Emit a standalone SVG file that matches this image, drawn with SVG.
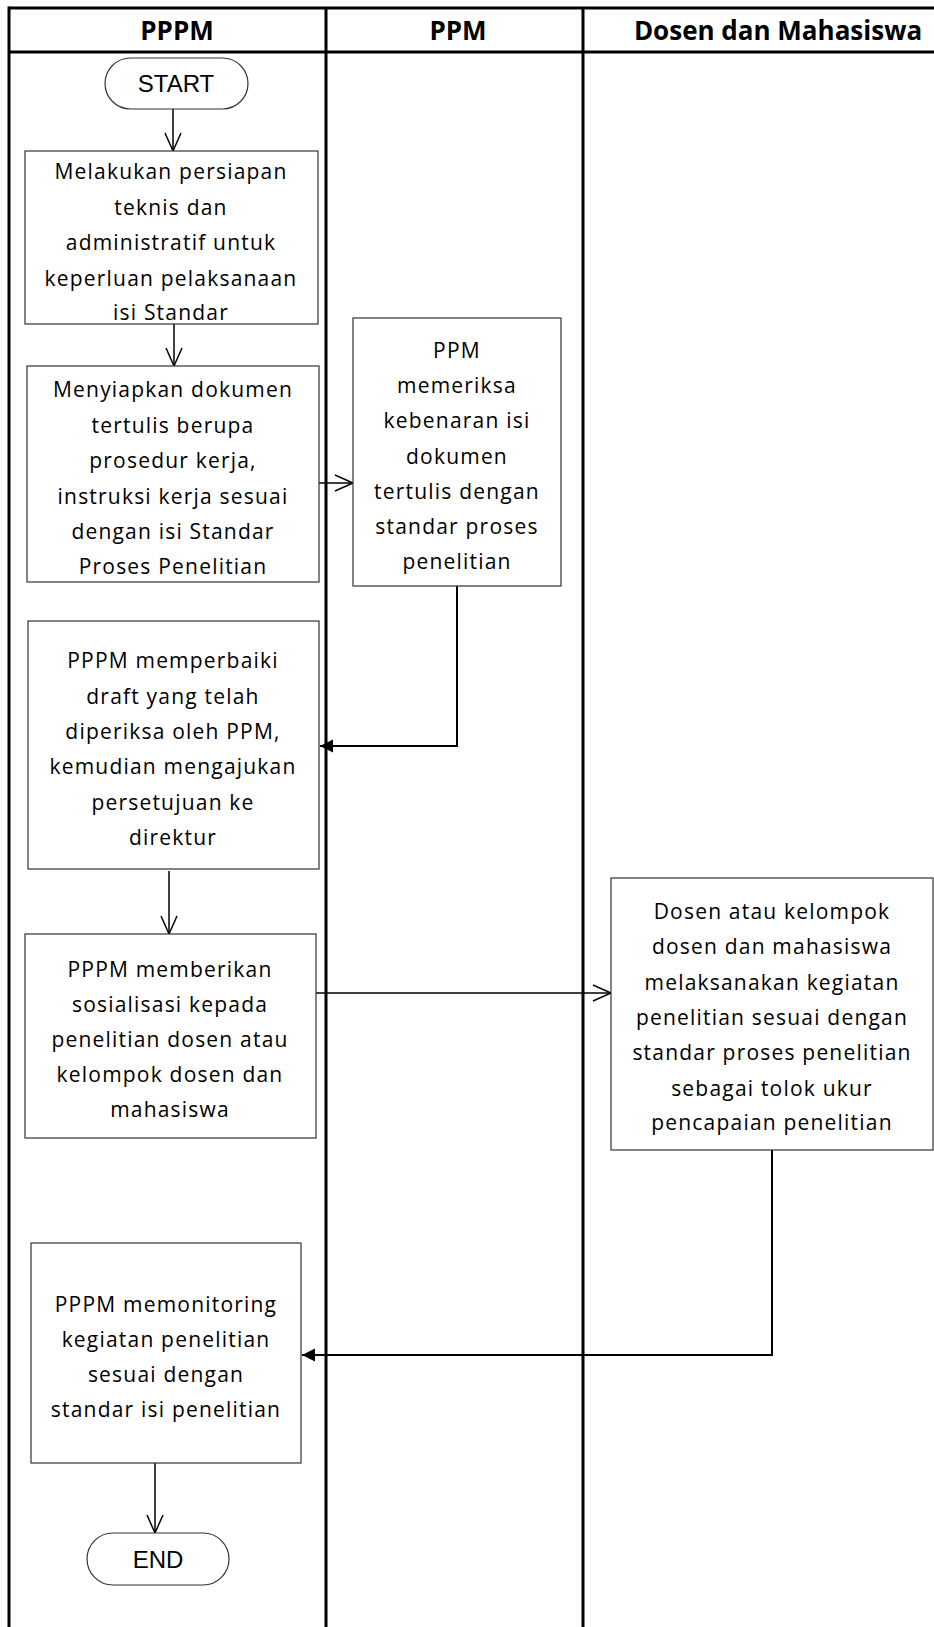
<svg xmlns="http://www.w3.org/2000/svg" width="934" height="1627" viewBox="0 0 934 1627">
<style>
.lane{stroke:#000;stroke-width:3;fill:none}
.box{fill:#fff;stroke:#333;stroke-width:1.2}
.term{fill:#fff;stroke:#333;stroke-width:1.2}
.t{font-family:"Open Sans","Liberation Sans",sans-serif;font-size:21px;letter-spacing:1.2px;fill:#000;text-anchor:middle}
.h{font-family:"Open Sans","Liberation Sans",sans-serif;font-size:26px;font-weight:bold;fill:#000;text-anchor:middle}
.tt{font-family:"Liberation Sans",Arial,sans-serif;font-size:24px;fill:#000;text-anchor:middle}
.c{fill:none;stroke:#000;stroke-width:1.5}
.c2{fill:none;stroke:#000;stroke-width:2}
</style>
<defs>
<marker id="open" markerUnits="userSpaceOnUse" viewBox="-20 -10 22 20" refX="0" refY="0" markerWidth="22" markerHeight="20" orient="auto">
<path d="M-18,-8 L0,0 L-18,8" fill="none" stroke="#000" stroke-width="1.5"/>
</marker>
<marker id="fill" markerUnits="userSpaceOnUse" viewBox="-15 -8 16 16" refX="0" refY="0" markerWidth="16" markerHeight="16" orient="auto">
<path d="M-13,-6.5 L0,0 L-13,6.5 Z" fill="#000"/>
</marker>
</defs>
<rect width="934" height="1627" fill="#fff"/>
<g id="lanes">
<line class="lane" x1="9" y1="8" x2="934" y2="8"/>
<line class="lane" x1="9" y1="52" x2="934" y2="52"/>
<line class="lane" x1="9" y1="6.5" x2="9" y2="1627"/>
<line class="lane" x1="326" y1="8" x2="326" y2="1627"/>
<line class="lane" x1="583" y1="8" x2="583" y2="1627"/>
<text class="h" x="177" y="40">PPPM</text>
<text class="h" x="458" y="40">PPM</text>
<text class="h" x="778" y="40">Dosen dan Mahasiswa</text>
</g>
<g id="connectors">
<line class="c" x1="173" y1="109" x2="173" y2="151" marker-end="url(#open)"/>
<line class="c" x1="174" y1="324" x2="174" y2="366" marker-end="url(#open)"/>
<line class="c" x1="319" y1="483" x2="353" y2="483" marker-end="url(#open)"/>
<polyline class="c2" points="457,586 457,746 320,746" marker-end="url(#fill)"/>
<line class="c" x1="169" y1="871" x2="169" y2="934" marker-end="url(#open)"/>
<line class="c" x1="316" y1="993" x2="611" y2="993" marker-end="url(#open)"/>
<polyline class="c2" points="772,1150 772,1355 302,1355" marker-end="url(#fill)"/>
<line class="c" x1="155" y1="1463" x2="155" y2="1533" marker-end="url(#open)"/>
</g>
<g id="start">
<rect class="term" x="105" y="58" width="143" height="51" rx="25.5" ry="25.5"/>
<text class="tt" x="176" y="92">START</text>
</g>
<g id="n1">
<rect class="box" x="25" y="151" width="293" height="173"/>
<text class="t" x="171" y="179">Melakukan persiapan</text>
<text class="t" x="171" y="214.5">teknis dan</text>
<text class="t" x="171" y="250">administratif untuk</text>
<text class="t" x="171" y="285.5">keperluan pelaksanaan</text>
<text class="t" x="171" y="320">isi Standar</text>
</g>
<g id="n2">
<rect class="box" x="27" y="366" width="292" height="216"/>
<text class="t" x="173" y="397">Menyiapkan dokumen</text>
<text class="t" x="173" y="432.5">tertulis berupa</text>
<text class="t" x="173" y="468">prosedur kerja,</text>
<text class="t" x="173" y="503.5">instruksi kerja sesuai</text>
<text class="t" x="173" y="539">dengan isi Standar</text>
<text class="t" x="173" y="574">Proses Penelitian</text>
</g>
<g id="n3">
<rect class="box" x="353" y="318" width="208" height="268"/>
<text class="t" x="457" y="358">PPM</text>
<text class="t" x="457" y="393">memeriksa</text>
<text class="t" x="457" y="428">kebenaran isi</text>
<text class="t" x="457" y="463.5">dokumen</text>
<text class="t" x="457" y="499">tertulis dengan</text>
<text class="t" x="457" y="534">standar proses</text>
<text class="t" x="457" y="569">penelitian</text>
</g>
<g id="n4">
<rect class="box" x="28" y="621" width="291" height="248"/>
<text class="t" x="173" y="668">PPPM memperbaiki</text>
<text class="t" x="173" y="703.5">draft yang telah</text>
<text class="t" x="173" y="738.5">diperiksa oleh PPM,</text>
<text class="t" x="173" y="774">kemudian mengajukan</text>
<text class="t" x="173" y="809.5">persetujuan ke</text>
<text class="t" x="173" y="845">direktur</text>
</g>
<g id="n5">
<rect class="box" x="25" y="934" width="291" height="204"/>
<text class="t" x="170" y="977">PPPM memberikan</text>
<text class="t" x="170" y="1012">sosialisasi kepada</text>
<text class="t" x="170" y="1047">penelitian dosen atau</text>
<text class="t" x="170" y="1082">kelompok dosen dan</text>
<text class="t" x="170" y="1117">mahasiswa</text>
</g>
<g id="n6">
<rect class="box" x="611" y="878" width="322" height="272"/>
<text class="t" x="772" y="919">Dosen atau kelompok</text>
<text class="t" x="772" y="954">dosen dan mahasiswa</text>
<text class="t" x="772" y="989.5">melaksanakan kegiatan</text>
<text class="t" x="772" y="1025">penelitian sesuai dengan</text>
<text class="t" x="772" y="1060">standar proses penelitian</text>
<text class="t" x="772" y="1095.5">sebagai tolok ukur</text>
<text class="t" x="772" y="1130">pencapaian penelitian</text>
</g>
<g id="n7">
<rect class="box" x="31" y="1243" width="270" height="220"/>
<text class="t" x="166" y="1312">PPPM memonitoring</text>
<text class="t" x="166" y="1347">kegiatan penelitian</text>
<text class="t" x="166" y="1382">sesuai dengan</text>
<text class="t" x="166" y="1417">standar isi penelitian</text>
</g>
<g id="end">
<rect class="term" x="87" y="1533" width="142" height="52" rx="26" ry="26"/>
<text class="tt" x="158" y="1568">END</text>
</g>
</svg>
